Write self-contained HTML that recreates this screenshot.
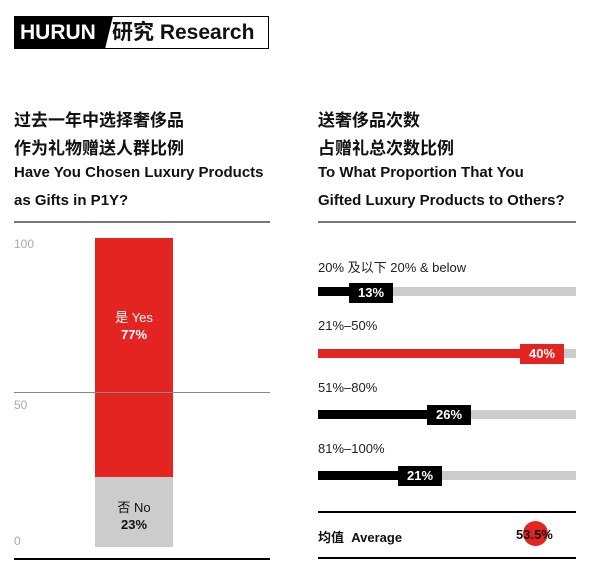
<!DOCTYPE html>
<html><head><meta charset="utf-8"><style>
body{margin:0;width:600px;height:563px;background:#fff;position:relative;overflow:hidden;font-family:"Liberation Sans","Noto Sans CJK SC",sans-serif;color:#111}
.a{position:absolute;white-space:nowrap}
.t{font-weight:bold;font-size:15px;left:14px}
.tr{font-weight:bold;font-size:15px;left:318px}
.c{font-size:17px}
.lab{font-size:13px;left:318px;color:#222}
.track{position:absolute;left:318px;width:258px;height:9px;background:#ccc}
.fill{position:absolute;left:318px;height:9px;background:#000}
.box{position:absolute;height:20px;width:44px;background:#000;color:#fff;font-weight:bold;font-size:13px;text-align:center;line-height:20px}
</style></head><body>
<div class="a" style="left:14px;top:16px;width:255px;height:33px;border:1px solid #000;box-sizing:border-box"></div>
<svg class="a" style="left:14px;top:16px" width="100" height="33"><polygon points="0,0 99,0 91,33 0,33" fill="#000"/></svg>
<div class="a" style="left:20px;top:18px;font-size:21px;font-weight:bold;color:#fff;line-height:30px">HURUN</div>
<div class="a" style="left:112px;top:18px;font-size:21px;font-weight:bold;line-height:30px">研究 Research</div>

<div class="a t c" style="top:106px">过去一年中选择奢侈品</div>
<div class="a t c" style="top:134px">作为礼物赠送人群比例</div>
<div class="a t" style="top:164px">Have You Chosen Luxury Products</div>
<div class="a t" style="top:192px">as Gifts in P1Y?</div>
<div class="a" style="left:14px;top:221px;width:256px;height:2px;background:#777"></div>

<div class="a tr c" style="top:106px">送奢侈品次数</div>
<div class="a tr c" style="top:134px">占赠礼总次数比例</div>
<div class="a tr" style="top:164px">To What Proportion That You</div>
<div class="a tr" style="top:192px">Gifted Luxury Products to Others?</div>
<div class="a" style="left:318px;top:221px;width:258px;height:2px;background:#777"></div>

<div class="a" style="left:14px;top:237px;font-size:12px;color:#aaa">100</div>
<div class="a" style="left:14px;top:398px;font-size:12px;color:#aaa">50</div>
<div class="a" style="left:14px;top:534px;font-size:12px;color:#aaa">0</div>
<div class="a" style="left:95px;top:238px;width:78px;height:239px;background:#e32420"></div>
<div class="a" style="left:95px;top:477px;width:78px;height:70px;background:#ccc"></div>
<div class="a" style="left:14px;top:392px;width:256px;height:1px;background:#888"></div>
<div class="a" style="left:14px;top:558px;width:256px;height:2px;background:#000"></div>
<div class="a" style="left:95px;width:78px;text-align:center;top:307px;font-size:13px;color:#fff">是 Yes</div>
<div class="a" style="left:95px;width:78px;text-align:center;top:327px;font-size:13px;font-weight:bold;color:#fff">77%</div>
<div class="a" style="left:95px;width:78px;text-align:center;top:497px;font-size:13px">否 No</div>
<div class="a" style="left:95px;width:78px;text-align:center;top:517px;font-size:13px;font-weight:bold">23%</div>

<div class="a lab" style="top:257px">20% 及以下 20% &amp; below</div>
<div class="track" style="top:287px"></div><div class="fill" style="top:287px;width:40px"></div>
<div class="box" style="left:349px;top:283px">13%</div>

<div class="a lab" style="top:318px">21%–50%</div>
<div class="track" style="top:349px"></div><div class="fill" style="top:349px;width:210px;background:#e32420"></div>
<div class="box" style="left:520px;top:344px;background:#e32420">40%</div>

<div class="a lab" style="top:380px">51%–80%</div>
<div class="track" style="top:410px"></div><div class="fill" style="top:410px;width:120px"></div>
<div class="box" style="left:427px;top:405px">26%</div>

<div class="a lab" style="top:441px">81%–100%</div>
<div class="track" style="top:471px"></div><div class="fill" style="top:471px;width:90px"></div>
<div class="box" style="left:398px;top:466px">21%</div>

<div class="a" style="left:318px;top:511px;width:258px;height:2px;background:#000"></div>
<div class="a" style="left:318px;top:557px;width:258px;height:2px;background:#000"></div>
<div class="a" style="left:318px;top:527px;font-size:13px;font-weight:bold">均值&nbsp; Average</div>
<div class="a" style="left:523px;top:521px;width:25px;height:25px;border-radius:50%;background:#e32420"></div>
<div class="a" style="left:516px;top:527px;font-size:13px;font-weight:bold">53.5%</div>
</body></html>
